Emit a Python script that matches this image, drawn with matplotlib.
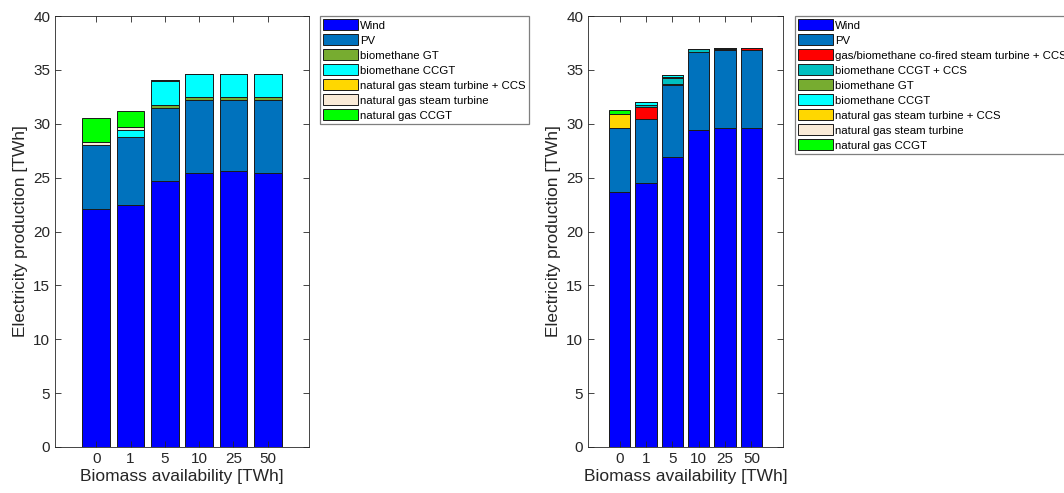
import matplotlib
matplotlib.use('Agg')
import matplotlib.pyplot as plt
import numpy as np

plt.rcParams['font.family'] = ['Liberation Sans', 'DejaVu Sans']

biomass = ['0', '1', '5', '10', '25', '50']

# left chart (TWh), bottom to top
wind_a = [22.05, 22.48, 24.7, 25.4, 25.6, 25.45]
pv_a = [5.95, 6.25, 6.72, 6.8, 6.6, 6.75]
bio_gt_a = [0.0, 0.0, 0.3, 0.25, 0.25, 0.25]
bio_ccgt_a = [0.0, 0.68, 2.23, 2.2, 2.2, 2.2]
ng_st_ccs_a = [0.0, 0.0, 0.0, 0.0, 0.0, 0.0]
ng_st_a = [0.26, 0.25, 0.08, 0.0, 0.0, 0.0]
ng_ccgt_a = [2.23, 1.51, 0.0, 0.0, 0.0, 0.0]

# right chart (TWh), bottom to top
wind_b = [23.65, 24.52, 26.93, 29.4, 29.6, 29.6]
pv_b = [5.91, 5.91, 6.65, 7.27, 7.2, 7.2]
cofired_ccs_b = [0.0, 1.08, 0.12, 0.0, 0.15, 0.2]
bio_ccgt_ccs_b = [0.0, 0.27, 0.5, 0.3, 0.1, 0.05]
bio_gt_b = [0.0, 0.0, 0.12, 0.0, 0.0, 0.0]
bio_ccgt_b = [0.0, 0.2, 0.25, 0.0, 0.0, 0.0]
ng_st_ccs_b = [1.36, 0.0, 0.0, 0.0, 0.0, 0.0]
ng_st_b = [0.0, 0.0, 0.0, 0.0, 0.0, 0.0]
ng_ccgt_b = [0.39, 0.0, 0.0, 0.0, 0.0, 0.0]

c_wind = '#0000ff'
c_pv = '#0072bd'
c_cofired = '#ff0000'
c_bio_ccs = '#00bfbf'
c_bio_gt = '#77ac30'
c_bio_ccgt = '#00ffff'
c_ng_ccs = '#ffd700'
c_ng_st = '#faebd7'
c_ng_ccgt = '#00ff00'

series_a = [
    ('Wind', wind_a, c_wind),
    ('PV', pv_a, c_pv),
    ('biomethane GT', bio_gt_a, c_bio_gt),
    ('biomethane CCGT', bio_ccgt_a, c_bio_ccgt),
    ('natural gas steam turbine + CCS', ng_st_ccs_a, c_ng_ccs),
    ('natural gas steam turbine', ng_st_a, c_ng_st),
    ('natural gas CCGT', ng_ccgt_a, c_ng_ccgt),
]
series_b = [
    ('Wind', wind_b, c_wind),
    ('PV', pv_b, c_pv),
    ('gas/biomethane co-fired steam turbine + CCS', cofired_ccs_b, c_cofired),
    ('biomethane CCGT + CCS', bio_ccgt_ccs_b, c_bio_ccs),
    ('biomethane GT', bio_gt_b, c_bio_gt),
    ('biomethane CCGT', bio_ccgt_b, c_bio_ccgt),
    ('natural gas steam turbine + CCS', ng_st_ccs_b, c_ng_ccs),
    ('natural gas steam turbine', ng_st_b, c_ng_st),
    ('natural gas CCGT', ng_ccgt_b, c_ng_ccgt),
]

fig = plt.figure(figsize=(10.64, 4.93), dpi=100)
ax1 = fig.add_axes([55/1064, 46/493, 254/1064, 431/493])
ax2 = fig.add_axes([588/1064, 46/493, 195/1064, 431/493])

txt = '#262626'


def stacked(ax, series, legend_x):
    x = np.arange(1, len(biomass) + 1)
    bottom = np.zeros(len(biomass))
    handles = []
    for name, vals, col in series:
        vals = np.array(vals)
        h = ax.bar(x, vals, 0.8, bottom=bottom, color=col, edgecolor='#1a1a1a',
                   linewidth=0.7, label=name)
        handles.append(h)
        bottom = bottom + vals
    ax.set_xlim(-0.2, 7.2)
    ax.set_ylim(0, 40)
    ax.set_xticks(x)
    ax.set_xticklabels(biomass)
    ax.set_yticks(np.arange(0, 41, 5))
    ax.tick_params(direction='in', top=True, right=True, labelsize=11,
                   colors=txt, length=4, width=0.6)
    for s in ax.spines.values():
        s.set_color('#262626')
        s.set_linewidth(0.6)
    ax.set_xlabel('Biomass availability [TWh]', fontsize=12.5, color=txt, labelpad=2)
    ax.set_ylabel('Electricity production [TWh]', fontsize=12.5, color=txt, labelpad=4)
    # legend sits outside the axes, like the matlab 'northeastoutside' one
    leg = fig.legend(handles=handles, loc='upper left',
                     bbox_to_anchor=(legend_x, 1 - 16/493), fontsize=8.2,
                     fancybox=False, framealpha=1, edgecolor='#7f7f7f',
                     handlelength=3.0, handleheight=1.1, handletextpad=0.2,
                     labelspacing=0.32, borderpad=0.3, borderaxespad=0)
    leg.get_frame().set_linewidth(0.9)


stacked(ax1, series_a, 320/1064)
stacked(ax2, series_b, 795/1064)

plt.savefig('out.png', dpi=100)
